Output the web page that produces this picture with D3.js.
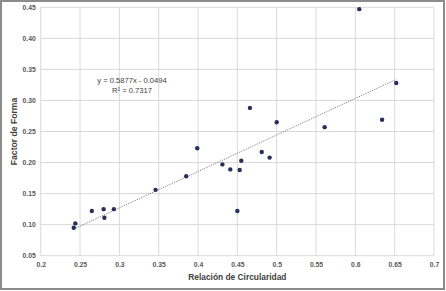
<!DOCTYPE html>
<html><head><meta charset="utf-8">
<script src="https://cdn.jsdelivr.net/npm/d3@7"></script>
<style>body{margin:0;background:#fff}svg{display:block}</style>
</head><body>
<script>
const xValues = [0.242,0.244,0.265,0.280,0.281,0.293,0.346,0.385,0.399,0.431,0.441,0.450,0.453,0.455,0.466,0.481,0.491,0.500,0.561,0.605,0.634,0.652];
const yValues = [0.095,0.102,0.122,0.125,0.111,0.125,0.156,0.178,0.223,0.197,0.189,0.122,0.188,0.203,0.288,0.217,0.208,0.265,0.257,0.447,0.269,0.328];
const xTicks = [0.2,0.25,0.3,0.35,0.4,0.45,0.5,0.55,0.6,0.65,0.7];
const yTicks = [0.05,0.10,0.15,0.20,0.25,0.30,0.35,0.40,0.45];
const slope = 0.5877, intercept = -0.0494;
const eqText = ["y = 0.5877x - 0.0494", "R² = 0.7317"];
const xTitle = "Relación de Circularidad", yTitle = "Factor de Forma";

const W = 446, H = 291;
const svg = d3.select("body").append("svg").attr("width", W).attr("height", H);
svg.append("rect").attr("x",1).attr("y",1).attr("width",W-3).attr("height",H-3)
  .attr("fill","#fff").attr("stroke","#8c8c8c").attr("stroke-width",2);

const x = d3.scaleLinear().domain([0.2,0.7]).range([40.7,434]);
const y = d3.scaleLinear().domain([0.05,0.45]).range([255.7,7.3]);
const font = "'Liberation Sans', Arial, sans-serif";

// gridlines
svg.append("g").selectAll("line").data(xTicks).join("line")
  .attr("x1",d=>x(d)).attr("x2",d=>x(d)).attr("y1",y(0.45)).attr("y2",y(0.05))
  .attr("stroke","#d9d9d9").attr("stroke-width",1);
svg.append("g").selectAll("line").data(yTicks).join("line")
  .attr("x1",x(0.2)).attr("x2",x(0.7)).attr("y1",d=>y(d)).attr("y2",d=>y(d))
  .attr("stroke","#d9d9d9").attr("stroke-width",1);

// axes labels via d3 axes
const xAxis = svg.append("g").attr("transform",`translate(0,${y(0.05)})`)
  .call(d3.axisBottom(x).tickValues(xTicks).tickSize(0).tickPadding(6).tickFormat(d=>String(+d.toFixed(2))));
const yAxis = svg.append("g").attr("transform",`translate(${x(0.2)},0)`)
  .call(d3.axisLeft(y).tickValues(yTicks).tickSize(0).tickPadding(5).tickFormat(d3.format(".2f")));
[xAxis,yAxis].forEach(a=>{
  a.select(".domain").remove();
  a.selectAll("text").attr("font-family",font).attr("font-size",6.8).attr("font-weight","bold").attr("fill","#595959");
});

// trendline
const xmin = d3.min(xValues), xmax = d3.max(xValues);
svg.append("line")
  .attr("x1",x(xmin)).attr("y1",y(slope*xmin+intercept))
  .attr("x2",x(xmax)).attr("y2",y(slope*xmax+intercept))
  .attr("stroke","#7f7f7f").attr("stroke-width",1).attr("stroke-dasharray","1.2,1.2");

// points
svg.append("g").selectAll("circle").data(xValues.map((v,i)=>[v,yValues[i]])).join("circle")
  .attr("cx",d=>x(d[0])).attr("cy",d=>y(d[1])).attr("r",2.2).attr("fill","#26305a");

// equation
svg.append("g").selectAll("text").data(eqText).join("text")
  .attr("x",132).attr("y",(d,i)=>82.5+i*10.5).attr("text-anchor","middle")
  .attr("font-family",font).attr("font-size",7.6).attr("fill","#404040").text(d=>d);

// titles
svg.append("text").attr("x",(x(0.2)+x(0.7))/2).attr("y",280).attr("text-anchor","middle")
  .attr("font-family",font).attr("font-size",8.4).attr("font-weight","bold").attr("fill","#404040").text(xTitle);
svg.append("text").attr("transform",`translate(16.5,${(y(0.05)+y(0.45))/2}) rotate(-90)`).attr("text-anchor","middle")
  .attr("font-family",font).attr("font-size",8.6).attr("font-weight","bold").attr("fill","#404040").text(yTitle);
</script>
</body></html>
